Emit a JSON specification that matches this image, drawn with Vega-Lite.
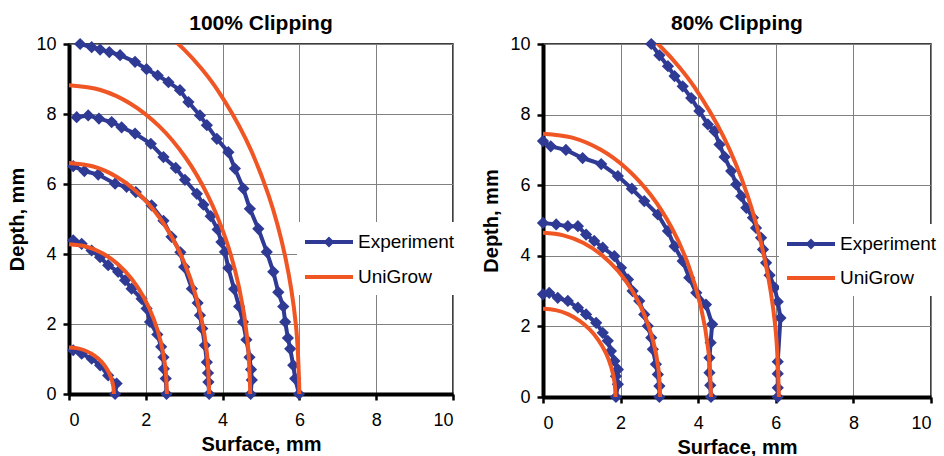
{
  "$schema": "https://vega.github.io/schema/vega-lite/v6.json",
  "padding": {"left": 7, "top": 12, "right": 5, "bottom": 2},
  "background": "white",
  "bounds": "flush",
  "spacing": 90,
  "config": {
    "view": {"stroke": "#000000", "strokeWidth": 1.5},
    "font": "Liberation Sans",
    "axis": {
      "domainColor": "#000000", "domainWidth": 4,
      "tickColor": "#000000", "tickWidth": 2.5, "tickSize": 6,
      "gridColor": "#808080", "gridWidth": 1,
      "labelFont": "Liberation Sans", "labelFontSize": 18, "labelColor": "#000000",
      "titleFont": "Liberation Sans", "titleFontSize": 20, "titleFontWeight": "bold", "titleColor": "#000000"
    },
    "axisX": {"labelPadding": 11, "titlePadding": 5},
    "axisY": {"labelPadding": 7, "titlePadding": 8},
    "title": {"font": "Liberation Sans", "fontSize": 21, "fontWeight": "bold", "color": "#000000", "offset": 1}
  },
  "resolve": {"scale": {"color": "independent"}, "legend": {"color": "independent"}},
  "datasets": {
    "left": [
      {"s":"Experiment","c":1,"i":0,"x":0.11,"y":1.25},{"s":"Experiment","c":1,"i":1,"x":0.33,"y":1.15},{"s":"Experiment","c":1,"i":2,"x":0.59,"y":1.01},{"s":"Experiment","c":1,"i":3,"x":0.81,"y":0.82},{"s":"Experiment","c":1,"i":4,"x":1.02,"y":0.53},{"s":"Experiment","c":1,"i":5,"x":1.24,"y":0.3},{"s":"Experiment","c":1,"i":6,"x":1.2,"y":0},
      {"s":"Experiment","c":2,"i":0,"x":0.11,"y":4.39},{"s":"Experiment","c":2,"i":1,"x":0.33,"y":4.29},{"s":"Experiment","c":2,"i":2,"x":0.59,"y":4.1},{"s":"Experiment","c":2,"i":3,"x":0.81,"y":3.91},{"s":"Experiment","c":2,"i":4,"x":1.02,"y":3.68},{"s":"Experiment","c":2,"i":5,"x":1.28,"y":3.49},{"s":"Experiment","c":2,"i":6,"x":1.46,"y":3.25},{"s":"Experiment","c":2,"i":7,"x":1.63,"y":3.01},{"s":"Experiment","c":2,"i":8,"x":1.89,"y":2.72},{"s":"Experiment","c":2,"i":9,"x":2.02,"y":2.44},{"s":"Experiment","c":2,"i":10,"x":2.11,"y":2.06},{"s":"Experiment","c":2,"i":11,"x":2.3,"y":1.7},{"s":"Experiment","c":2,"i":12,"x":2.4,"y":1.35},{"s":"Experiment","c":2,"i":13,"x":2.46,"y":1.05},{"s":"Experiment","c":2,"i":14,"x":2.47,"y":0.72},{"s":"Experiment","c":2,"i":15,"x":2.52,"y":0.44},{"s":"Experiment","c":2,"i":16,"x":2.54,"y":0},
      {"s":"Experiment","c":3,"i":0,"x":0.11,"y":6.51},{"s":"Experiment","c":3,"i":1,"x":0.4,"y":6.37},{"s":"Experiment","c":3,"i":2,"x":0.76,"y":6.27},{"s":"Experiment","c":3,"i":3,"x":1.2,"y":6.01},{"s":"Experiment","c":3,"i":4,"x":1.5,"y":5.92},{"s":"Experiment","c":3,"i":5,"x":1.74,"y":5.77},{"s":"Experiment","c":3,"i":6,"x":2.15,"y":5.39},{"s":"Experiment","c":3,"i":7,"x":2.46,"y":4.95},{"s":"Experiment","c":3,"i":8,"x":2.67,"y":4.49},{"s":"Experiment","c":3,"i":9,"x":2.9,"y":4.05},{"s":"Experiment","c":3,"i":10,"x":3.0,"y":3.63},{"s":"Experiment","c":3,"i":11,"x":3.2,"y":3.01},{"s":"Experiment","c":3,"i":12,"x":3.35,"y":2.6},{"s":"Experiment","c":3,"i":13,"x":3.41,"y":2.25},{"s":"Experiment","c":3,"i":14,"x":3.47,"y":1.87},{"s":"Experiment","c":3,"i":15,"x":3.54,"y":1.39},{"s":"Experiment","c":3,"i":16,"x":3.59,"y":0.91},{"s":"Experiment","c":3,"i":17,"x":3.62,"y":0.6},{"s":"Experiment","c":3,"i":18,"x":3.63,"y":0.34},{"s":"Experiment","c":3,"i":19,"x":3.65,"y":0},
      {"s":"Experiment","c":4,"i":0,"x":0.2,"y":7.91},{"s":"Experiment","c":4,"i":1,"x":0.5,"y":7.96},{"s":"Experiment","c":4,"i":2,"x":0.78,"y":7.87},{"s":"Experiment","c":4,"i":3,"x":1.11,"y":7.77},{"s":"Experiment","c":4,"i":4,"x":1.37,"y":7.62},{"s":"Experiment","c":4,"i":5,"x":1.72,"y":7.44},{"s":"Experiment","c":4,"i":6,"x":2.13,"y":7.15},{"s":"Experiment","c":4,"i":7,"x":2.46,"y":6.77},{"s":"Experiment","c":4,"i":8,"x":2.78,"y":6.46},{"s":"Experiment","c":4,"i":9,"x":3.02,"y":6.12},{"s":"Experiment","c":4,"i":10,"x":3.33,"y":5.72},{"s":"Experiment","c":4,"i":11,"x":3.5,"y":5.41},{"s":"Experiment","c":4,"i":12,"x":3.69,"y":5.08},{"s":"Experiment","c":4,"i":13,"x":3.87,"y":4.7},{"s":"Experiment","c":4,"i":14,"x":3.97,"y":4.34},{"s":"Experiment","c":4,"i":15,"x":4.06,"y":4.06},{"s":"Experiment","c":4,"i":16,"x":4.15,"y":3.6},{"s":"Experiment","c":4,"i":17,"x":4.3,"y":3.0},{"s":"Experiment","c":4,"i":18,"x":4.43,"y":2.5},{"s":"Experiment","c":4,"i":19,"x":4.53,"y":2.06},{"s":"Experiment","c":4,"i":20,"x":4.62,"y":1.55},{"s":"Experiment","c":4,"i":21,"x":4.7,"y":1.05},{"s":"Experiment","c":4,"i":22,"x":4.74,"y":0.7},{"s":"Experiment","c":4,"i":23,"x":4.76,"y":0.4},{"s":"Experiment","c":4,"i":24,"x":4.73,"y":0},
      {"s":"Experiment","c":5,"i":0,"x":0.29,"y":10.0},{"s":"Experiment","c":5,"i":1,"x":0.59,"y":9.91},{"s":"Experiment","c":5,"i":2,"x":0.81,"y":9.84},{"s":"Experiment","c":5,"i":3,"x":1.05,"y":9.77},{"s":"Experiment","c":5,"i":4,"x":1.33,"y":9.68},{"s":"Experiment","c":5,"i":5,"x":1.72,"y":9.49},{"s":"Experiment","c":5,"i":6,"x":2.02,"y":9.28},{"s":"Experiment","c":5,"i":7,"x":2.31,"y":9.1},{"s":"Experiment","c":5,"i":8,"x":2.59,"y":8.91},{"s":"Experiment","c":5,"i":9,"x":2.89,"y":8.68},{"s":"Experiment","c":5,"i":10,"x":3.11,"y":8.34},{"s":"Experiment","c":5,"i":11,"x":3.41,"y":7.96},{"s":"Experiment","c":5,"i":12,"x":3.59,"y":7.68},{"s":"Experiment","c":5,"i":13,"x":3.85,"y":7.29},{"s":"Experiment","c":5,"i":14,"x":4.15,"y":6.91},{"s":"Experiment","c":5,"i":15,"x":4.32,"y":6.44},{"s":"Experiment","c":5,"i":16,"x":4.54,"y":5.87},{"s":"Experiment","c":5,"i":17,"x":4.71,"y":5.29},{"s":"Experiment","c":5,"i":18,"x":4.93,"y":4.72},{"s":"Experiment","c":5,"i":19,"x":5.15,"y":4.06},{"s":"Experiment","c":5,"i":20,"x":5.32,"y":3.49},{"s":"Experiment","c":5,"i":21,"x":5.45,"y":2.91},{"s":"Experiment","c":5,"i":22,"x":5.58,"y":2.5},{"s":"Experiment","c":5,"i":23,"x":5.63,"y":2.06},{"s":"Experiment","c":5,"i":24,"x":5.7,"y":1.6},{"s":"Experiment","c":5,"i":25,"x":5.76,"y":1.29},{"s":"Experiment","c":5,"i":26,"x":5.84,"y":0.82},{"s":"Experiment","c":5,"i":27,"x":5.89,"y":0.44},{"s":"Experiment","c":5,"i":28,"x":5.99,"y":0},
      {"s":"UniGrow","c":1,"i":0,"x":0,"y":1.33},{"s":"UniGrow","c":1,"i":1,"x":0.203,"y":1.31},{"s":"UniGrow","c":1,"i":2,"x":0.4,"y":1.25},{"s":"UniGrow","c":1,"i":3,"x":0.585,"y":1.152},{"s":"UniGrow","c":1,"i":4,"x":0.752,"y":1.019},{"s":"UniGrow","c":1,"i":5,"x":0.896,"y":0.855},{"s":"UniGrow","c":1,"i":6,"x":1.013,"y":0.665},{"s":"UniGrow","c":1,"i":7,"x":1.099,"y":0.455},{"s":"UniGrow","c":1,"i":8,"x":1.152,"y":0.231},{"s":"UniGrow","c":1,"i":9,"x":1.17,"y":0},
      {"s":"UniGrow","c":2,"i":0,"x":0,"y":4.28},{"s":"UniGrow","c":2,"i":1,"x":0.443,"y":4.215},{"s":"UniGrow","c":2,"i":2,"x":0.872,"y":4.022},{"s":"UniGrow","c":2,"i":3,"x":1.275,"y":3.707},{"s":"UniGrow","c":2,"i":4,"x":1.639,"y":3.279},{"s":"UniGrow","c":2,"i":5,"x":1.953,"y":2.751},{"s":"UniGrow","c":2,"i":6,"x":2.208,"y":2.14},{"s":"UniGrow","c":2,"i":7,"x":2.396,"y":1.464},{"s":"UniGrow","c":2,"i":8,"x":2.511,"y":0.743},{"s":"UniGrow","c":2,"i":9,"x":2.55,"y":0},
      {"s":"UniGrow","c":3,"i":0,"x":0,"y":6.6},{"s":"UniGrow","c":3,"i":1,"x":0.634,"y":6.5},{"s":"UniGrow","c":3,"i":2,"x":1.248,"y":6.202},{"s":"UniGrow","c":3,"i":3,"x":1.825,"y":5.716},{"s":"UniGrow","c":3,"i":4,"x":2.346,"y":5.056},{"s":"UniGrow","c":3,"i":5,"x":2.796,"y":4.242},{"s":"UniGrow","c":3,"i":6,"x":3.161,"y":3.3},{"s":"UniGrow","c":3,"i":7,"x":3.43,"y":2.257},{"s":"UniGrow","c":3,"i":8,"x":3.595,"y":1.146},{"s":"UniGrow","c":3,"i":9,"x":3.65,"y":0},
      {"s":"UniGrow","c":4,"i":0,"x":0,"y":8.82},{"s":"UniGrow","c":4,"i":1,"x":0.82,"y":8.686},{"s":"UniGrow","c":4,"i":2,"x":1.614,"y":8.288},{"s":"UniGrow","c":4,"i":3,"x":2.36,"y":7.638},{"s":"UniGrow","c":4,"i":4,"x":3.034,"y":6.757},{"s":"UniGrow","c":4,"i":5,"x":3.616,"y":5.669},{"s":"UniGrow","c":4,"i":6,"x":4.088,"y":4.41},{"s":"UniGrow","c":4,"i":7,"x":4.435,"y":3.017},{"s":"UniGrow","c":4,"i":8,"x":4.648,"y":1.532},{"s":"UniGrow","c":4,"i":9,"x":4.72,"y":0},
      {"s":"UniGrow","c":5,"i":0,"x":2.052,"y":10.675},{"s":"UniGrow","c":5,"i":1,"x":2.536,"y":10.296},{"s":"UniGrow","c":5,"i":2,"x":3.0,"y":9.838},{"s":"UniGrow","c":5,"i":3,"x":3.442,"y":9.306},{"s":"UniGrow","c":5,"i":4,"x":3.857,"y":8.702},{"s":"UniGrow","c":5,"i":5,"x":4.596,"y":7.302},{"s":"UniGrow","c":5,"i":6,"x":5.196,"y":5.68},{"s":"UniGrow","c":5,"i":7,"x":5.638,"y":3.885},{"s":"UniGrow","c":5,"i":8,"x":5.909,"y":1.973},{"s":"UniGrow","c":5,"i":9,"x":6.0,"y":0}
    ],
    "right": [
      {"s":"Experiment","c":1,"i":0,"x":0,"y":2.91},{"s":"Experiment","c":1,"i":1,"x":0.16,"y":2.95},{"s":"Experiment","c":1,"i":2,"x":0.38,"y":2.81},{"s":"Experiment","c":1,"i":3,"x":0.64,"y":2.72},{"s":"Experiment","c":1,"i":4,"x":0.9,"y":2.53},{"s":"Experiment","c":1,"i":5,"x":1.11,"y":2.34},{"s":"Experiment","c":1,"i":6,"x":1.37,"y":2.1},{"s":"Experiment","c":1,"i":7,"x":1.54,"y":1.82},{"s":"Experiment","c":1,"i":8,"x":1.67,"y":1.59},{"s":"Experiment","c":1,"i":9,"x":1.75,"y":1.3},{"s":"Experiment","c":1,"i":10,"x":1.84,"y":1.02},{"s":"Experiment","c":1,"i":11,"x":1.93,"y":0.78},{"s":"Experiment","c":1,"i":12,"x":1.88,"y":0.59},{"s":"Experiment","c":1,"i":13,"x":1.93,"y":0.36},{"s":"Experiment","c":1,"i":14,"x":1.88,"y":0},
      {"s":"Experiment","c":2,"i":0,"x":0,"y":4.93},{"s":"Experiment","c":2,"i":1,"x":0.34,"y":4.89},{"s":"Experiment","c":2,"i":2,"x":0.64,"y":4.84},{"s":"Experiment","c":2,"i":3,"x":0.9,"y":4.84},{"s":"Experiment","c":2,"i":4,"x":1.11,"y":4.6},{"s":"Experiment","c":2,"i":5,"x":1.32,"y":4.42},{"s":"Experiment","c":2,"i":6,"x":1.54,"y":4.23},{"s":"Experiment","c":2,"i":7,"x":1.84,"y":3.99},{"s":"Experiment","c":2,"i":8,"x":2.01,"y":3.66},{"s":"Experiment","c":2,"i":9,"x":2.19,"y":3.33},{"s":"Experiment","c":2,"i":10,"x":2.31,"y":3.0},{"s":"Experiment","c":2,"i":11,"x":2.48,"y":2.72},{"s":"Experiment","c":2,"i":12,"x":2.61,"y":2.34},{"s":"Experiment","c":2,"i":13,"x":2.7,"y":2.01},{"s":"Experiment","c":2,"i":14,"x":2.79,"y":1.68},{"s":"Experiment","c":2,"i":15,"x":2.83,"y":1.35},{"s":"Experiment","c":2,"i":16,"x":2.91,"y":0.93},{"s":"Experiment","c":2,"i":17,"x":2.96,"y":0.64},{"s":"Experiment","c":2,"i":18,"x":3.0,"y":0.31},{"s":"Experiment","c":2,"i":19,"x":3.0,"y":0},
      {"s":"Experiment","c":3,"i":0,"x":0,"y":7.25},{"s":"Experiment","c":3,"i":1,"x":0.2,"y":7.1},{"s":"Experiment","c":3,"i":2,"x":0.59,"y":7.0},{"s":"Experiment","c":3,"i":3,"x":1.02,"y":6.77},{"s":"Experiment","c":3,"i":4,"x":1.5,"y":6.6},{"s":"Experiment","c":3,"i":5,"x":1.93,"y":6.26},{"s":"Experiment","c":3,"i":6,"x":2.29,"y":5.9},{"s":"Experiment","c":3,"i":7,"x":2.61,"y":5.55},{"s":"Experiment","c":3,"i":8,"x":2.96,"y":5.17},{"s":"Experiment","c":3,"i":9,"x":3.22,"y":4.7},{"s":"Experiment","c":3,"i":10,"x":3.39,"y":4.27},{"s":"Experiment","c":3,"i":11,"x":3.6,"y":3.85},{"s":"Experiment","c":3,"i":12,"x":3.77,"y":3.38},{"s":"Experiment","c":3,"i":13,"x":3.95,"y":2.95},{"s":"Experiment","c":3,"i":14,"x":4.2,"y":2.62},{"s":"Experiment","c":3,"i":15,"x":4.36,"y":2.06},{"s":"Experiment","c":3,"i":16,"x":4.32,"y":1.54},{"s":"Experiment","c":3,"i":17,"x":4.29,"y":1.11},{"s":"Experiment","c":3,"i":18,"x":4.29,"y":0.69},{"s":"Experiment","c":3,"i":19,"x":4.31,"y":0.33},{"s":"Experiment","c":3,"i":20,"x":4.33,"y":0},
      {"s":"Experiment","c":4,"i":0,"x":2.79,"y":10},{"s":"Experiment","c":4,"i":1,"x":3.0,"y":9.68},{"s":"Experiment","c":4,"i":2,"x":3.22,"y":9.37},{"s":"Experiment","c":4,"i":3,"x":3.39,"y":9.09},{"s":"Experiment","c":4,"i":4,"x":3.6,"y":8.8},{"s":"Experiment","c":4,"i":5,"x":3.82,"y":8.47},{"s":"Experiment","c":4,"i":6,"x":4.03,"y":8.1},{"s":"Experiment","c":4,"i":7,"x":4.25,"y":7.72},{"s":"Experiment","c":4,"i":8,"x":4.42,"y":7.53},{"s":"Experiment","c":4,"i":9,"x":4.55,"y":7.15},{"s":"Experiment","c":4,"i":10,"x":4.68,"y":6.8},{"s":"Experiment","c":4,"i":11,"x":4.85,"y":6.4},{"s":"Experiment","c":4,"i":12,"x":4.98,"y":6.02},{"s":"Experiment","c":4,"i":13,"x":5.11,"y":5.69},{"s":"Experiment","c":4,"i":14,"x":5.24,"y":5.36},{"s":"Experiment","c":4,"i":15,"x":5.41,"y":5.08},{"s":"Experiment","c":4,"i":16,"x":5.49,"y":4.79},{"s":"Experiment","c":4,"i":17,"x":5.62,"y":4.51},{"s":"Experiment","c":4,"i":18,"x":5.67,"y":4.18},{"s":"Experiment","c":4,"i":19,"x":5.75,"y":3.8},{"s":"Experiment","c":4,"i":20,"x":5.84,"y":3.45},{"s":"Experiment","c":4,"i":21,"x":5.97,"y":3.1},{"s":"Experiment","c":4,"i":22,"x":6.05,"y":2.7},{"s":"Experiment","c":4,"i":23,"x":6.12,"y":2.24},{"s":"Experiment","c":4,"i":24,"x":6.05,"y":1.0},{"s":"Experiment","c":4,"i":25,"x":6.05,"y":0.66},{"s":"Experiment","c":4,"i":26,"x":6.05,"y":0.26},{"s":"Experiment","c":4,"i":27,"x":6.05,"y":0},
      {"s":"UniGrow","c":1,"i":0,"x":0,"y":2.5},{"s":"UniGrow","c":1,"i":1,"x":0.325,"y":2.462},{"s":"UniGrow","c":1,"i":2,"x":0.64,"y":2.349},{"s":"UniGrow","c":1,"i":3,"x":0.935,"y":2.165},{"s":"UniGrow","c":1,"i":4,"x":1.202,"y":1.915},{"s":"UniGrow","c":1,"i":5,"x":1.433,"y":1.607},{"s":"UniGrow","c":1,"i":6,"x":1.62,"y":1.25},{"s":"UniGrow","c":1,"i":7,"x":1.757,"y":0.855},{"s":"UniGrow","c":1,"i":8,"x":1.842,"y":0.434},{"s":"UniGrow","c":1,"i":9,"x":1.87,"y":0},
      {"s":"UniGrow","c":2,"i":0,"x":0,"y":4.65},{"s":"UniGrow","c":2,"i":1,"x":0.524,"y":4.579},{"s":"UniGrow","c":2,"i":2,"x":1.033,"y":4.37},{"s":"UniGrow","c":2,"i":3,"x":1.51,"y":4.027},{"s":"UniGrow","c":2,"i":4,"x":1.941,"y":3.562},{"s":"UniGrow","c":2,"i":5,"x":2.313,"y":2.989},{"s":"UniGrow","c":2,"i":6,"x":2.615,"y":2.325},{"s":"UniGrow","c":2,"i":7,"x":2.838,"y":1.59},{"s":"UniGrow","c":2,"i":8,"x":2.974,"y":0.808},{"s":"UniGrow","c":2,"i":9,"x":3.02,"y":0},
      {"s":"UniGrow","c":3,"i":0,"x":0,"y":7.46},{"s":"UniGrow","c":3,"i":1,"x":0.752,"y":7.347},{"s":"UniGrow","c":3,"i":2,"x":1.481,"y":7.01},{"s":"UniGrow","c":3,"i":3,"x":2.165,"y":6.461},{"s":"UniGrow","c":3,"i":4,"x":2.783,"y":5.715},{"s":"UniGrow","c":3,"i":5,"x":3.317,"y":4.795},{"s":"UniGrow","c":3,"i":6,"x":3.75,"y":3.73},{"s":"UniGrow","c":3,"i":7,"x":4.069,"y":2.552},{"s":"UniGrow","c":3,"i":8,"x":4.264,"y":1.295},{"s":"UniGrow","c":3,"i":9,"x":4.33,"y":0},
      {"s":"UniGrow","c":4,"i":0,"x":2.08,"y":10.759},{"s":"UniGrow","c":4,"i":1,"x":2.57,"y":10.377},{"s":"UniGrow","c":4,"i":2,"x":3.04,"y":9.916},{"s":"UniGrow","c":4,"i":3,"x":3.487,"y":9.379},{"s":"UniGrow","c":4,"i":4,"x":3.908,"y":8.771},{"s":"UniGrow","c":4,"i":5,"x":4.658,"y":7.36},{"s":"UniGrow","c":4,"i":6,"x":5.266,"y":5.725},{"s":"UniGrow","c":4,"i":7,"x":5.713,"y":3.916},{"s":"UniGrow","c":4,"i":8,"x":5.988,"y":1.988},{"s":"UniGrow","c":4,"i":9,"x":6.08,"y":0}
    ]
  },
  "hconcat": [
    {
      "title": "100% Clipping",
      "width": 384, "height": 350,
      "data": {"name": "left"},
      "encoding": {
        "x": {"field": "x", "type": "quantitative", "title": "Surface, mm", "scale": {"domain": [0, 10], "nice": false}, "axis": {"values": [0, 2, 4, 6, 8, 10]}},
        "y": {"field": "y", "type": "quantitative", "title": "Depth, mm", "scale": {"domain": [0, 10], "nice": false}, "axis": {"values": [0, 2, 4, 6, 8, 10]}},
        "color": {"field": "s", "type": "nominal", "scale": {"domain": ["Experiment", "UniGrow"], "range": ["#2E3A94", "#F05524"]},
          "legend": {"orient": "none", "legendX": 228, "legendY": 178, "title": null, "fillColor": "white", "padding": 8,
            "labelFont": "Liberation Sans", "labelFontSize": 19, "labelColor": "#000000", "labelOffset": 29, "rowPadding": 12,
            "symbolSize": 400, "symbolStrokeWidth": 4,
            "encode": {"symbols": {"update": {
              "shape": {"signal": "datum.value === 'Experiment' ? 'M-1.2,0H3.6M1.2,-0.27L1.47,0L1.2,0.27L0.93,0Z' : 'M-1.2,0H3.6'"},
              "fill": {"signal": "datum.value === 'Experiment' ? '#2E3A94' : 'transparent'"},
              "stroke": {"signal": "datum.value === 'Experiment' ? '#2E3A94' : '#F05524'"},
              "strokeWidth": {"value": 4}, "opacity": {"value": 1}}}}}},
        "detail": {"field": "c", "type": "nominal"},
        "order": {"field": "i", "type": "quantitative"}
      },
      "layer": [
        {"transform": [{"filter": "datum.s === 'Experiment'"}], "mark": {"type": "line", "strokeWidth": 4}},
        {"transform": [{"filter": "datum.s === 'Experiment'"}], "mark": {"type": "point", "shape": "diamond", "filled": true, "size": 150, "opacity": 1}},
        {"transform": [{"filter": "datum.s === 'UniGrow'"}], "mark": {"type": "line", "strokeWidth": 4, "interpolate": "catmull-rom", "clip": true}}
      ]
    },
    {
      "title": "80% Clipping",
      "width": 388, "height": 353,
      "data": {"name": "right"},
      "encoding": {
        "x": {"field": "x", "type": "quantitative", "title": "Surface, mm", "scale": {"domain": [0, 10], "nice": false}, "axis": {"values": [0, 2, 4, 6, 8, 10]}},
        "y": {"field": "y", "type": "quantitative", "title": "Depth, mm", "scale": {"domain": [0, 10], "nice": false}, "axis": {"values": [0, 2, 4, 6, 8, 10]}},
        "color": {"field": "s", "type": "nominal", "scale": {"domain": ["Experiment", "UniGrow"], "range": ["#2E3A94", "#F05524"]},
          "legend": {"orient": "none", "legendX": 236, "legendY": 180, "title": null, "fillColor": "white", "padding": 8,
            "labelFont": "Liberation Sans", "labelFontSize": 19, "labelColor": "#000000", "labelOffset": 29, "rowPadding": 11,
            "symbolSize": 400, "symbolStrokeWidth": 4,
            "encode": {"symbols": {"update": {
              "shape": {"signal": "datum.value === 'Experiment' ? 'M-1.2,0H3.6M1.2,-0.27L1.47,0L1.2,0.27L0.93,0Z' : 'M-1.2,0H3.6'"},
              "fill": {"signal": "datum.value === 'Experiment' ? '#2E3A94' : 'transparent'"},
              "stroke": {"signal": "datum.value === 'Experiment' ? '#2E3A94' : '#F05524'"},
              "strokeWidth": {"value": 4}, "opacity": {"value": 1}}}}}},
        "detail": {"field": "c", "type": "nominal"},
        "order": {"field": "i", "type": "quantitative"}
      },
      "layer": [
        {"transform": [{"filter": "datum.s === 'Experiment'"}], "mark": {"type": "line", "strokeWidth": 4}},
        {"transform": [{"filter": "datum.s === 'Experiment'"}], "mark": {"type": "point", "shape": "diamond", "filled": true, "size": 150, "opacity": 1}},
        {"transform": [{"filter": "datum.s === 'UniGrow'"}], "mark": {"type": "line", "strokeWidth": 4, "interpolate": "catmull-rom", "clip": true}}
      ]
    }
  ]
}
